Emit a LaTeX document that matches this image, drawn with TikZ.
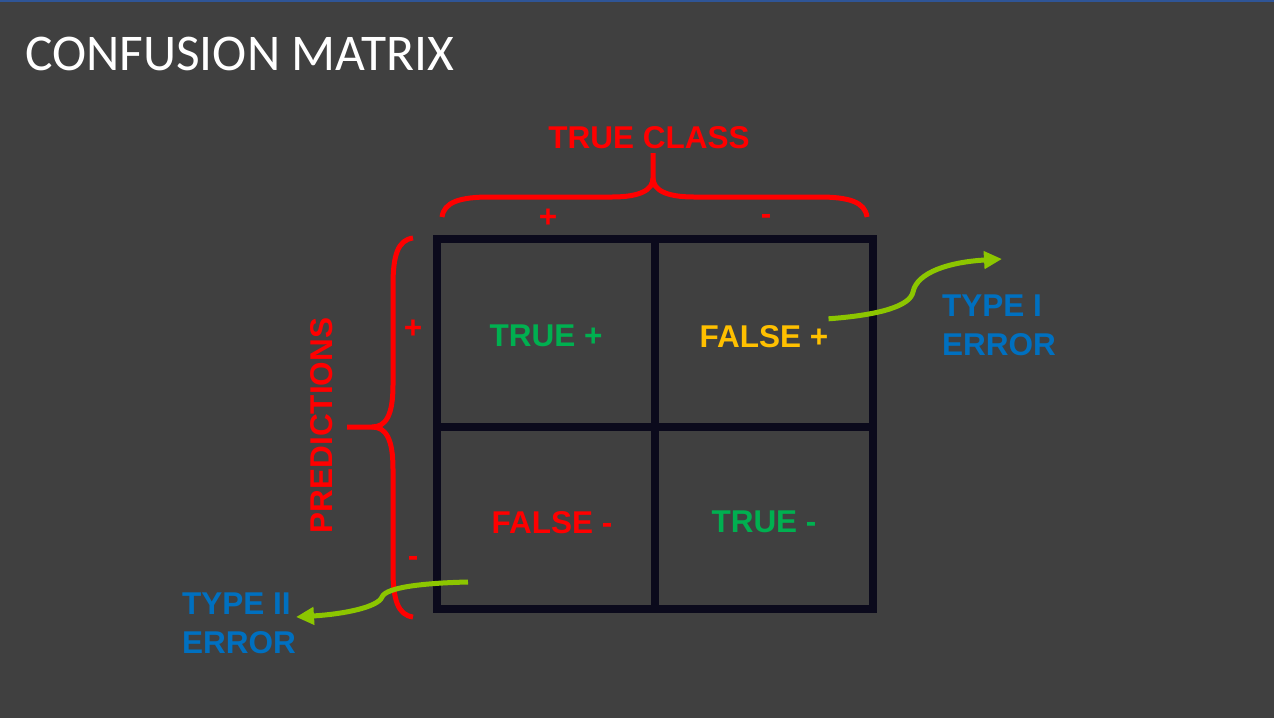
\documentclass[tikz,border=0pt]{standalone}
\usepackage{fontspec}
\setmainfont{Liberation Sans}
\newfontfamily\titlefont{Carlito}
\usetikzlibrary{arrows.meta}

\definecolor{bg}{HTML}{404040}
\definecolor{topline}{HTML}{2F5597}
\definecolor{gridcol}{HTML}{0B0A1C}
\definecolor{okgreen}{HTML}{00B050}
\definecolor{fpyellow}{HTML}{FFC000}
\definecolor{fnred}{HTML}{FF0000}
\definecolor{errblue}{HTML}{0070C0}
\definecolor{arrowgreen}{RGB}{140,198,0}

\tikzset{
  lbl/.style={inner sep=0pt, font=\bfseries\fontsize{31.5}{37}\selectfont},
  cell/.style={draw=gridcol, line width=8pt, minimum width=218pt, inner sep=0pt},
  brace/.style={draw=fnred, line width=5pt},
  errarrow/.style={draw=arrowgreen, line width=5pt,
    -{Triangle[length=18pt,width=17pt]}},
}

\begin{document}
\begin{tikzpicture}[x=1pt,y=-1pt]
  % canvas
  \fill[bg] (0,0) rectangle (1274,718);
  \useasboundingbox (0,0) rectangle (1274,718);
  \draw[topline, line width=1.5pt] (0,0.75) -- (1274,0.75);

  % heading
  \node[anchor=base west, inner sep=0pt, text=white,
        font=\titlefont\fontsize{51.5}{60}\selectfont] (title) at (25,70) {CONFUSION MATRIX};

  % the 2x2 grid
  \node[cell, minimum height=188pt] (tl) at (546,333) {};
  \node[cell, minimum height=188pt] (tr) at (763.5,333) {};
  \node[cell, minimum height=182pt] (bl) at (546,518) {};
  \node[cell, minimum height=182pt] (br) at (763.5,518) {};

  % cell labels
  \node[lbl, text=okgreen, anchor=base] (tp) at (546,346) {TRUE +};
  \node[lbl, text=fpyellow, anchor=base] (fp) at (764,347) {FALSE +};
  \node[lbl, text=fnred, anchor=base] (fn) at (552,533) {FALSE -};
  \node[lbl, text=okgreen, anchor=base] (tn) at (764,532) {TRUE -};

  % true class brace
  \draw[brace] (442,217) .. controls (444,202) and (460,197) .. (490,197) -- (612,197)
    .. controls (640,197) and (653,190) .. (653,178) -- (653,153);
  \draw[brace] (867,217) .. controls (865,202) and (849,197) .. (819,197) -- (694,197)
    .. controls (666,197) and (653,190) .. (653,178);
  \node[lbl, text=fnred, anchor=base] (trueclass) at (649,148) {TRUE CLASS};
  \node[lbl, text=fnred, anchor=base] (colpos) at (548,227) {+};
  \node[lbl, text=fnred, anchor=base] (colneg) at (766,224.5) {-};

  % predictions brace
  \draw[brace] (413,238) .. controls (398,240) and (393,255) .. (393,285) -- (393,385)
    .. controls (393,415) and (386,427) .. (372,427) -- (347,427);
  \draw[brace] (413,617) .. controls (398,615) and (393,600) .. (393,570) -- (393,469)
    .. controls (393,439) and (386,427) .. (372,427);
  \node[lbl, text=fnred, anchor=base, rotate=90] (predictions) at (332,425.5) {PREDICTIONS};
  \node[lbl, text=fnred, anchor=base] (rowpos) at (413,338) {+};
  \node[lbl, text=fnred, anchor=base] (rowneg) at (413,566) {-};

  % error labels
  \node[lbl, text=errblue, anchor=base west] (typeIa) at (942,316) {TYPE I};
  \node[lbl, text=errblue, anchor=base west] (typeIb) at (942,355) {ERROR};
  \node[lbl, text=errblue, anchor=base west] (typeIIa) at (182,614) {TYPE II};
  \node[lbl, text=errblue, anchor=base west] (typeIIb) at (182,653) {ERROR};

  % error arrows
  \coordinate (typeItip) at (1002,259);
  \coordinate (fnout) at (468,582);
  \coordinate (typeIItip) at (296,617);
  \draw[errarrow] ([yshift=6pt]fp.north east) .. controls (880,315) and (910,306) .. (913,292)
    .. controls (917,272) and (950,262) .. (typeItip);
  \draw[errarrow] (fnout) .. controls (425,583) and (386,587) .. (382,597)
    .. controls (378,607) and (345,614) .. (typeIItip);
\end{tikzpicture}
\end{document}
